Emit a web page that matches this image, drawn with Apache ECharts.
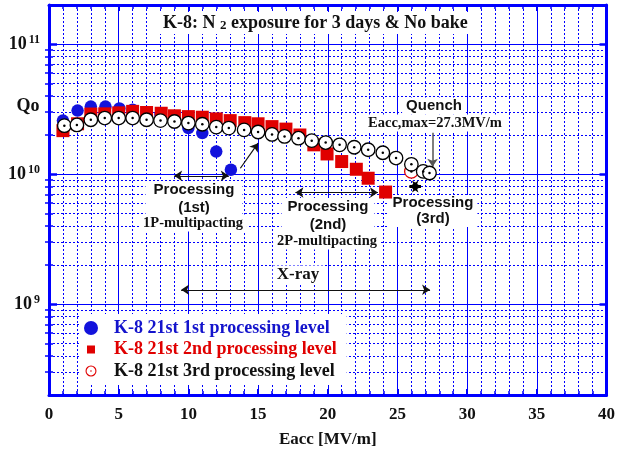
<!DOCTYPE html>
<html>
<head>
<meta charset="utf-8">
<script src="https://cdn.jsdelivr.net/npm/echarts@6/dist/echarts.min.js"></script>
<style>
  html, body { margin: 0; padding: 0; background: #fff; }
  #chart { width: 618px; height: 455px; }
</style>
</head>
<body>
<div id="chart"></div>
<script>
// Q0 vs Eacc for K-8 after N2 exposure (3 days, no bake), three processing levels
const eacc1st = [1.0, 2.05, 3.0, 4.05, 5.05, 6.0, 7.0, 8.0, 9.0, 10.0, 11.0, 12.0, 13.05];
const qo1st   = [2.58e10, 3.08e10, 3.31e10, 3.31e10, 3.20e10, 3.13e10, 2.98e10, 2.85e10, 2.6e10, 2.26e10, 2.07e10, 1.49e10, 1.08e10];

const eacc2nd = [1.0, 2.05, 3.0, 4.0, 5.0, 6.0, 7.0, 8.05, 9.0, 10.0, 11.0, 12.0, 13.0, 14.05, 15.0, 16.0, 17.0, 18.0, 19.0, 19.95, 21.0, 22.05, 22.9, 24.15];
const qo2nd   = [2.16e10, 2.44e10, 2.9e10, 2.91e10, 2.96e10, 3.04e10, 2.98e10, 2.94e10, 2.81e10, 2.77e10, 2.74e10, 2.66e10, 2.58e10, 2.49e10, 2.44e10, 2.32e10, 2.22e10, 2.00e10, 1.68e10, 1.43e10, 1.25e10, 1.09e10, 9.3e9, 7.28e9];

const eacc3rd = [1.1, 2.0, 3.0, 4.0, 5.0, 6.0, 7.0, 8.0, 9.0, 10.0, 11.0, 12.0, 12.9, 14.0, 15.0, 16.0, 16.9, 17.9, 18.85, 19.85, 20.85, 21.9, 22.9, 23.95, 24.9, 26.0, 26.85, 27.3];
const qo3rd   = [2.36e10, 2.39e10, 2.62e10, 2.70e10, 2.70e10, 2.70e10, 2.62e10, 2.58e10, 2.54e10, 2.47e10, 2.42e10, 2.30e10, 2.26e10, 2.19e10, 2.11e10, 2.02e10, 1.95e10, 1.89e10, 1.81e10, 1.75e10, 1.68e10, 1.61e10, 1.54e10, 1.46e10, 1.33e10, 1.19e10, 1.05e10, 1.02e10];

// one 3rd-level reading near quench plotted with a red outline
const eacc3rdRed = [26.0];
const qo3rdRed   = [1.05e10];

const seriesNames = ['K-8 21st 1st processing level', 'K-8 21st 2nd processing level', 'K-8 21st 3rd processing level'];

// axis ranges and tick values
const xMin = 0, xMax = 40, xStep = 5;
const yMin = 2e8, yMax = 2e11;
const yDecades = [1e9, 1e10, 1e11];
const yMinor = [3e8, 4e8, 5e8, 6e8, 7e8, 8e8, 9e8,
                2e9, 3e9, 4e9, 5e9, 6e9, 7e9, 8e9, 9e9,
                2e10, 3e10, 4e10, 5e10, 6e10, 7e10, 8e10, 9e10];

// annotation arrows: [Eacc, Q0] start and end, with head style
const arrowPairs = [
  { from: [8.98, 9.7e9],  to: [12.9, 9.7e9],  heads: ['arrow', 'arrow'], color: '#111', width: 1.2 }, // processing (1st)
  { from: [13.73, 1.11e10], to: [15.0, 1.73e10], heads: ['none', 'arrow'], color: '#111', width: 1.2 },
  { from: [17.68, 7.22e9], to: [23.6, 7.22e9], heads: ['arrow', 'arrow'], color: '#111', width: 1.2 },  // processing (2nd)
  { from: [25.86, 8.03e9], to: [26.69, 8.03e9], heads: ['arrow', 'arrow'], color: '#000', width: 3 },   // processing (3rd)
  { from: [27.52, 2.08e10], to: [27.52, 1.14e10], heads: ['none', 'arrow'], color: '#555', width: 1.5 }, // quench
  { from: [9.48, 1.29e9], to: [27.34, 1.29e9], heads: ['arrow', 'arrow'], color: '#111', width: 1.2 }   // X-ray
];

const SERIF = '"Liberation Serif", "Times New Roman", serif';
const SANS = '"Liberation Sans", Arial, sans-serif';
const BLUE = '#0000ff';
const DOT = [2, 2];

const zip = (xs, ys) => xs.map((x, i) => [x, ys[i]]);

// ring with a centre dot, padded to a 14x14 box, used as the legend icon of the 3rd level
const ringIcon = 'path://M0,0h0.01v0.01h-0.01z M14,14h0.01v0.01h-0.01z ' +
  'M1.5,7a5.5,5.5 0 1,0 11,0a5.5,5.5 0 1,0 -11,0z ' +
  'M2.6,7a4.4,4.4 0 1,1 8.8,0a4.4,4.4 0 1,1 -8.8,0z ' +
  'M6.2,7a0.8,0.8 0 1,0 1.6,0a0.8,0.8 0 1,0 -1.6,0z';
const squareIcon = 'path://M0,0h0.01v0.01h-0.01z M14,14h0.01v0.01h-0.01z M3,3h8v8h-8z';

function note(text, x, y, font, size, extra) {
  return Object.assign({
    type: 'text', x: x, y: y, z: 1,
    style: {
      text: text, fontFamily: font, fontWeight: 'bold', fontSize: size,
      fill: '#111', align: 'center', verticalAlign: 'middle',
      backgroundColor: '#fff', padding: [1, 4]
    }
  }, extra || {});
}

const chart = echarts.init(document.getElementById('chart'), null, { renderer: 'canvas' });

const yLabelFmt = v => {
  const e = Math.round(Math.log10(v));
  return '{b|10}{s|' + e + '}';
};

const option = {
  animation: false,
  backgroundColor: '#fff',
  title: {
    text: '{a|K-8: N }{s|2}{a| exposure for 3 days & No bake}',
    left: 160, top: 12,
    padding: [2, 3],
    backgroundColor: '#fff',
    textStyle: {
      rich: {
        a: { fontFamily: SERIF, fontWeight: 'bold', fontSize: 18, color: '#111' },
        s: { fontFamily: SERIF, fontWeight: 'bold', fontSize: 13, color: '#111', verticalAlign: 'bottom', padding: [4, 0, 0, 0] }
      }
    }
  },
  grid: { left: 49, right: 8, top: 5, bottom: 60, containLabel: false },
  legend: {
    orient: 'vertical', left: 80, top: 314,
    padding: [5, 10, 5, 4],
    backgroundColor: '#fff',
    itemWidth: 36, itemHeight: 14, itemGap: 3.5,
    selectedMode: false,
    textStyle: { fontFamily: SERIF, fontWeight: 'bold', fontSize: 18, lineHeight: 18 },
    data: [
      { name: seriesNames[0], icon: 'circle', itemStyle: { color: '#1212dc', borderWidth: 0, opacity: 1 }, textStyle: { color: '#1414cc' } },
      { name: seriesNames[1], icon: squareIcon, itemStyle: { color: '#e00000', borderWidth: 0, opacity: 1 }, textStyle: { color: '#e00000' } },
      { name: seriesNames[2], icon: ringIcon, itemStyle: { color: '#e00000', borderWidth: 0, opacity: 1 }, textStyle: { color: '#111' } }
    ]
  },
  xAxis: [
    {
      type: 'value', min: xMin, max: xMax, interval: xStep, position: 'bottom',
      axisLine: { show: true, onZero: false, lineStyle: { color: BLUE, width: 3 } },
      axisTick: { show: true, inside: true, length: 6, lineStyle: { color: BLUE, width: 2 } },
      minorTick: { show: true, splitNumber: 5, length: 4, lineStyle: { color: BLUE, width: 1.5 } },
      splitLine: { show: true, lineStyle: { color: BLUE, width: 1 } },
      minorSplitLine: { show: true, lineStyle: { color: BLUE, width: 1, type: DOT } },
      axisLabel: { margin: 11, fontFamily: SERIF, fontWeight: 'bold', fontSize: 17, color: '#111' },
      name: 'Eacc [MV/m]', nameLocation: 'middle', nameGap: 36,
      nameTextStyle: { fontFamily: SERIF, fontWeight: 'bold', fontSize: 17, color: '#111' }
    },
    {
      type: 'value', min: xMin, max: xMax, interval: xStep, position: 'top',
      axisLine: { show: true, onZero: false, lineStyle: { color: BLUE, width: 3 } },
      axisTick: { show: true, inside: true, length: 6, lineStyle: { color: BLUE, width: 2 } },
      minorTick: { show: true, splitNumber: 5, length: 4, lineStyle: { color: BLUE, width: 1.5 } },
      splitLine: { show: false }, axisLabel: { show: false }
    }
  ],
  yAxis: [
    {
      type: 'log', logBase: 10, min: yMin, max: yMax, position: 'left',
      axisLine: { show: true, onZero: false, lineStyle: { color: BLUE, width: 3 } },
      axisTick: { show: true, inside: true, length: 8, customValues: yDecades, lineStyle: { color: BLUE, width: 2.5 } },
      splitLine: { show: true, lineStyle: { color: BLUE, width: 1 } },
      axisLabel: {
        customValues: yDecades, margin: 9, formatter: yLabelFmt,
        rich: {
          b: { fontFamily: SERIF, fontWeight: 'bold', fontSize: 18, color: '#111', lineHeight: 20 },
          s: { fontFamily: SERIF, fontWeight: 'bold', fontSize: 12, color: '#111', verticalAlign: 'top', lineHeight: 12, padding: [0, 0, 0, 2] }
        }
      }
    },
    {
      type: 'log', logBase: 10, min: yMin, max: yMax, position: 'left',
      axisLine: { show: false },
      axisTick: { show: true, inside: true, length: 4, customValues: yMinor, lineStyle: { color: BLUE, width: 1.5 } },
      splitLine: { show: true, lineStyle: { color: BLUE, width: 1, type: DOT } },
      axisLabel: { show: false }
    },
    {
      type: 'log', logBase: 10, min: yMin, max: yMax, position: 'right',
      axisLine: { show: true, onZero: false, lineStyle: { color: BLUE, width: 3 } },
      axisTick: { show: true, inside: true, length: 7, customValues: yDecades, lineStyle: { color: BLUE, width: 2.5 } },
      splitLine: { show: false }, axisLabel: { show: false }
    },
    {
      type: 'log', logBase: 10, min: yMin, max: yMax, position: 'right',
      axisLine: { show: false },
      axisTick: { show: true, inside: true, length: 4, customValues: yMinor, lineStyle: { color: BLUE, width: 1.5 } },
      splitLine: { show: false }, axisLabel: { show: false }
    }
  ],
  graphic: [
    note('Qo', 28, 106, SERIF, 18, { style: { text: 'Qo', fontFamily: SERIF, fontWeight: 'bold', fontSize: 18, fill: '#111', align: 'center', verticalAlign: 'middle' } }),
    note('Processing\n(1st)', 194, 199, SANS, 15, { style: { text: 'Processing\n(1st)', fontFamily: SANS, fontWeight: 'bold', fontSize: 15, lineHeight: 18, fill: '#111', align: 'center', verticalAlign: 'middle', backgroundColor: '#fff', padding: [0, 8] } }),
    note('1P-multipacting', 193, 223, SERIF, 14.5),
    note('Processing\n(2nd)', 328, 216, SANS, 15, { style: { text: 'Processing\n(2nd)', fontFamily: SANS, fontWeight: 'bold', fontSize: 15, lineHeight: 18, fill: '#111', align: 'center', verticalAlign: 'middle', backgroundColor: '#fff', padding: [0, 6] } }),
    note('2P-multipacting', 327, 241, SERIF, 14.5),
    note('Processing\n(3rd)', 433, 211, SANS, 15, { style: { text: 'Processing\n(3rd)', fontFamily: SANS, fontWeight: 'bold', fontSize: 15, lineHeight: 16, fill: '#111', align: 'center', verticalAlign: 'middle', backgroundColor: '#fff', padding: [0, 4] } }),
    note('Quench', 434, 106, SANS, 15),
    note('Eacc,max=27.3MV/m', 435, 123, SERIF, 14.5),
    note('X-ray', 298, 275, SERIF, 17)
  ],
  series: [
    {
      name: seriesNames[0], type: 'scatter', xAxisIndex: 0, yAxisIndex: 0, z: 3,
      symbol: 'circle', symbolSize: 12.5,
      itemStyle: { color: '#1212dc', opacity: 1 },
      data: zip(eacc1st, qo1st)
    },
    {
      name: seriesNames[1], type: 'scatter', xAxisIndex: 0, yAxisIndex: 0, z: 4,
      symbol: 'rect', symbolSize: 13,
      itemStyle: { color: '#e00000', opacity: 1 },
      data: zip(eacc2nd, qo2nd)
    },
    {
      name: seriesNames[2], type: 'scatter', xAxisIndex: 0, yAxisIndex: 0, z: 5,
      symbol: 'circle', symbolSize: 13.5,
      itemStyle: { color: '#fff', borderColor: '#000', borderWidth: 1.3, opacity: 1 },
      data: zip(eacc3rdRed, qo3rdRed).map(p => ({ value: p, itemStyle: { borderColor: '#e00000' } }))
        .concat(zip(eacc3rd, qo3rd))
    },
    {
      name: '3rd-centre', type: 'scatter', xAxisIndex: 0, yAxisIndex: 0, z: 6, silent: true,
      symbol: 'circle', symbolSize: 2.5,
      itemStyle: { color: '#000', opacity: 1 },
      data: zip(eacc3rd, qo3rd).concat(zip(eacc3rdRed, qo3rdRed))
    },
    {
      name: 'arrows', type: 'scatter', xAxisIndex: 0, yAxisIndex: 0, z: 7, silent: true,
      data: [],
      markLine: {
        silent: true, animation: false,
        label: { show: false },
        data: arrowPairs.map(a => [
          { coord: a.from, symbol: a.heads[0], symbolSize: a.width > 2 ? 9 : 8, lineStyle: { color: a.color, width: a.width, type: 'solid' } },
          { coord: a.to, symbol: a.heads[1], symbolSize: a.width > 2 ? 9 : 8 }
        ])
      }
    }
  ]
};

chart.setOption(option);
</script>
</body>
</html>
